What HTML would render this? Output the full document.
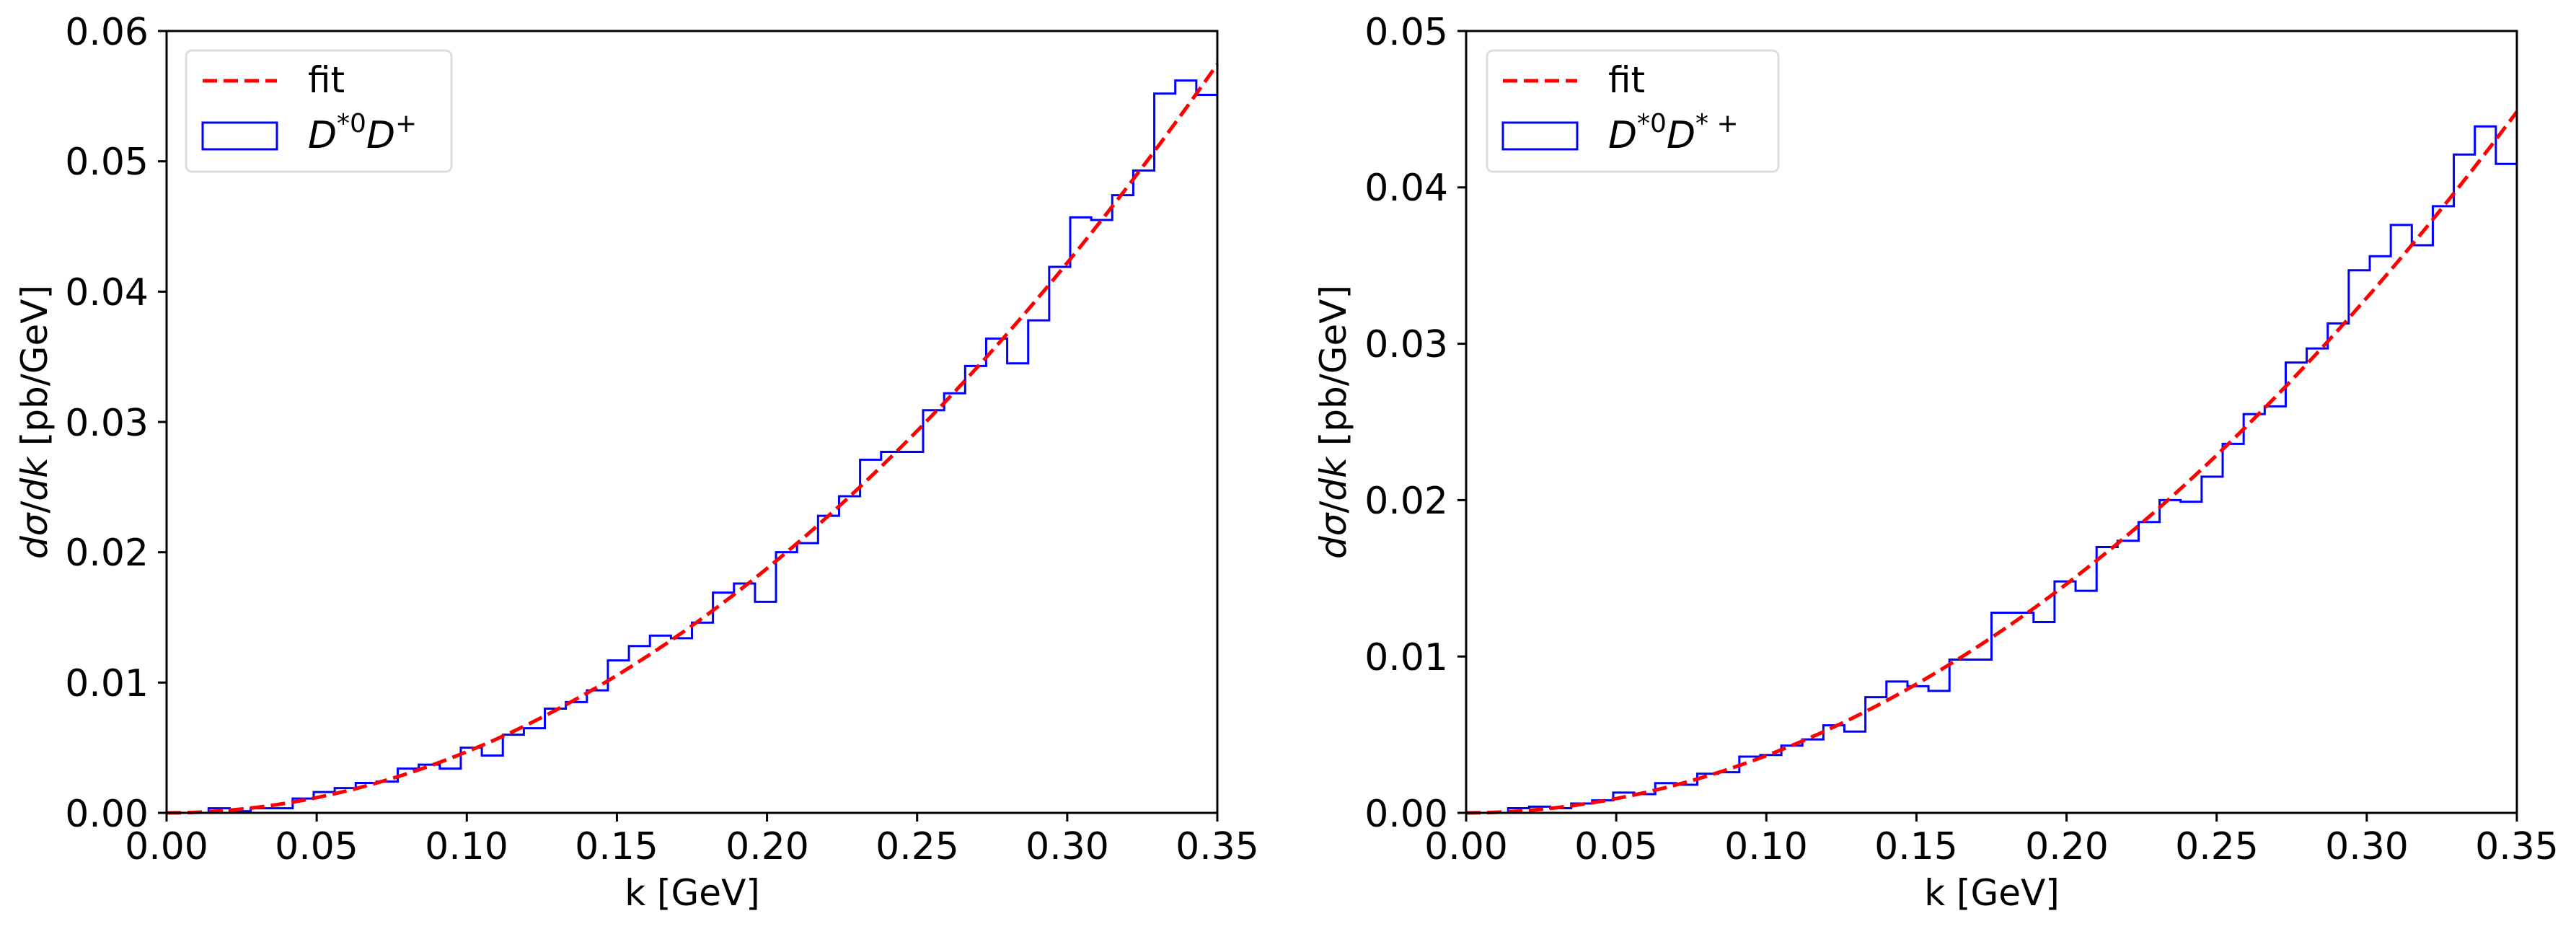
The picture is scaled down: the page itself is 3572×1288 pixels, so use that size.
<!DOCTYPE html>
<html><head><meta charset="utf-8"><style>
html,body{margin:0;padding:0;background:#fff;}
svg{display:block;font-family:"DejaVu Sans","Liberation Sans",sans-serif;}
</style></head><body>
<svg id="s" width="3572" height="1288" viewBox="0 0 3572 1288" xmlns="http://www.w3.org/2000/svg">
<rect width="3572" height="1288" fill="#fff"/>
<g id="g1"></g>
<g id="g2"></g>
<g font-size="52" fill="#000">
<g text-anchor="middle">
<text x="231" y="1191">0.00</text><text x="439" y="1191">0.05</text><text x="647" y="1191">0.10</text><text x="855" y="1191">0.15</text><text x="1064" y="1191">0.20</text><text x="1272" y="1191">0.25</text><text x="1480" y="1191">0.30</text><text x="1688" y="1191">0.35</text>
<text x="2033" y="1191">0.00</text><text x="2241" y="1191">0.05</text><text x="2449" y="1191">0.10</text><text x="2657" y="1191">0.15</text><text x="2866" y="1191">0.20</text><text x="3074" y="1191">0.25</text><text x="3282" y="1191">0.30</text><text x="3490" y="1191">0.35</text>
<text x="960" y="1255" font-size="50">k [GeV]</text>
<text x="2762" y="1255" font-size="50">k [GeV]</text>
</g>
<g text-anchor="end">
<text x="206" y="1146">0.00</text><text x="206" y="965">0.01</text><text x="206" y="784">0.02</text><text x="206" y="604">0.03</text><text x="206" y="423">0.04</text><text x="206" y="242">0.05</text><text x="206" y="62">0.06</text>
<text x="2008" y="1146">0.00</text><text x="2008" y="929">0.01</text><text x="2008" y="712">0.02</text><text x="2008" y="495">0.03</text><text x="2008" y="278">0.04</text><text x="2008" y="62">0.05</text>
</g>
<text transform="translate(65,585) rotate(-90)" text-anchor="middle" font-size="50"><tspan font-style="italic">dσ</tspan>/<tspan font-style="italic">dk</tspan> [pb/GeV]</text>
<text transform="translate(1866,585) rotate(-90)" text-anchor="middle" font-size="50"><tspan font-style="italic">dσ</tspan>/<tspan font-style="italic">dk</tspan> [pb/GeV]</text>
</g>
<rect x="258" y="70" width="368" height="168" rx="8" fill="#fff" fill-opacity="0.8" stroke="#ddd" stroke-width="3"/>
<line x1="281" y1="112" x2="384" y2="112" stroke="#f00" stroke-width="5" stroke-dasharray="20,9"/>
<rect x="281" y="170" width="103" height="37" fill="none" stroke="#00f" stroke-width="3"/>
<text x="427" y="128" font-size="50">fit</text>
<text x="427" y="205" font-size="52" font-style="italic">D<tspan font-size="36" dy="-22" font-style="normal">*0</tspan><tspan dy="22">D</tspan><tspan font-size="36" dy="-22" font-style="normal">+</tspan></text>
<rect x="2062" y="70" width="404" height="168" rx="8" fill="#fff" fill-opacity="0.8" stroke="#ddd" stroke-width="3"/>
<line x1="2084" y1="112" x2="2187" y2="112" stroke="#f00" stroke-width="5" stroke-dasharray="20,9"/>
<rect x="2084" y="170" width="103" height="37" fill="none" stroke="#00f" stroke-width="3"/>
<text x="2230" y="128" font-size="50">fit</text>
<text x="2230" y="205" font-size="52" font-style="italic">D<tspan font-size="36" dy="-22" font-style="normal">*0</tspan><tspan dy="22">D</tspan><tspan font-size="36" dy="-22" font-style="normal">* +</tspan></text>
</svg>
<script>
(function(){
var NS="http://www.w3.org/2000/svg";
function el(g,t,a){var e=document.createElementNS(NS,t);for(var k in a)e.setAttribute(k,a[k]);g.appendChild(e);return e;}
function plot(gid,x0,x1,y0,y1,ymax,vals,A,nt){
 var g=document.getElementById(gid),W=x1-x0,H=y0-y1;
 function X(k){return x0+k/0.35*W;} function Y(v){return y0-v/ymax*H;}
 var d="M"+X(0)+","+y0, n=vals.length, bw=0.35/n;
 for(var i=0;i<n;i++){d+=" L"+X(i*bw)+","+Y(vals[i])+" L"+X((i+1)*bw)+","+Y(vals[i]);}
 d+=" L"+X(0.35)+","+y0;
 el(g,"path",{d:d,fill:"none",stroke:"#00f","stroke-width":3,"stroke-linejoin":"miter"});
 var f="";for(var j=0;j<=200;j++){var k=0.35*j/200;f+=(j?" L":"M")+X(k).toFixed(1)+","+Y(A*k*k).toFixed(1);}
 el(g,"path",{d:f,fill:"none",stroke:"#f00","stroke-width":5,"stroke-dasharray":"20,9"});
 el(g,"rect",{x:x0,y:y1,width:W,height:H,fill:"none",stroke:"#000","stroke-width":3});
 for(var t=0;t<=7;t++){var xx=X(t*0.05);el(g,"line",{x1:xx,x2:xx,y1:y0,y2:y0+12,stroke:"#000","stroke-width":3});}
 for(var t=0;t<=nt;t++){var yy=y0-t*H/nt;el(g,"line",{x1:x0-12,x2:x0,y1:yy,y2:yy,stroke:"#000","stroke-width":3});}
}
var v1=[0,0,0.00035,0.00013,0.00035,0.00035,0.0011,0.0016,0.0019,0.0023,0.0024,0.0034,0.0037,0.0034,0.005,0.0044,0.006,0.0065,0.008,0.0085,0.0094,0.0117,0.0128,0.0136,0.0134,0.0146,0.0169,0.0176,0.0162,0.02,0.0207,0.0228,0.0243,0.0271,0.0277,0.0277,0.0309,0.0322,0.0343,0.0364,0.0345,0.0378,0.0419,0.0457,0.0455,0.0474,0.0493,0.0552,0.0562,0.0551];
var v2=[0,0,0.0003,0.0004,0.0003,0.0006,0.0008,0.0013,0.0012,0.0019,0.0018,0.0025,0.0026,0.0036,0.0037,0.0043,0.0047,0.0056,0.0052,0.0074,0.0084,0.0081,0.0078,0.0098,0.0098,0.0128,0.0128,0.0122,0.0148,0.0142,0.017,0.0174,0.0186,0.02,0.0199,0.0215,0.0236,0.0255,0.026,0.0288,0.0297,0.0313,0.0347,0.0356,0.0376,0.0363,0.0388,0.0421,0.0439,0.0415];
plot("g1",231,1688,1127,43,0.06,v1,0.469,6);
plot("g2",2033,3490,1127,43,0.05,v2,0.366,5);
})();
</script>
</body></html>
